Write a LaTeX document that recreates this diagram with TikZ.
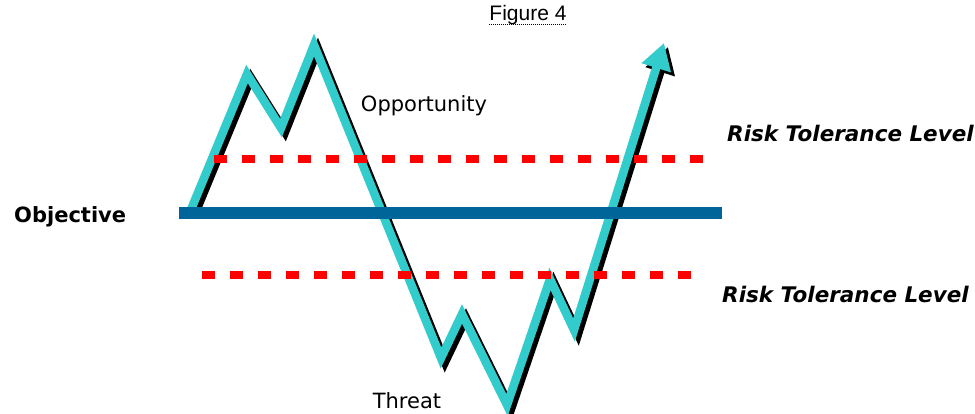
\documentclass[tikz,border=0pt]{standalone}
\usepackage{fontspec}
\setmainfont{DejaVu Sans}
\newfontfamily\arialfont{Liberation Sans}
\usetikzlibrary{arrows.meta}
\definecolor{trendcyan}{HTML}{33CCCC}
\definecolor{objblue}{HTML}{006699}
\definecolor{tolred}{HTML}{FF0000}
\begin{document}
\begin{tikzpicture}[x=1pt,y=-1pt,
  trend/.style={line width=8.5pt, line join=miter, -{Triangle[length=26pt,width=29pt]}},
  tolline/.style={tolred, line width=8pt, dash pattern=on 13pt off 15pt},
  lbl/.style={anchor=base, inner sep=0pt, font=\fontsize{21}{25}\selectfont},
  risk/.style={anchor=base west, inner sep=0pt, font=\fontsize{21.5}{25}\selectfont\bfseries\itshape}]
\useasboundingbox (0,0) rectangle (975,414);
% trend path coordinates
\coordinate (p0) at (190,212);
\coordinate (p1) at (247,74);
\coordinate (p2) at (281,128);
\coordinate (p3) at (314,45);
\coordinate (p4) at (441,358);
\coordinate (p5) at (462,314);
\coordinate (p6) at (507,405);
\coordinate (p7) at (550,279);
\coordinate (p8) at (574,330);
\coordinate (p9) at (664,43);
% shadow
\draw[trend, black] ([shift={(4,4)}]p0) -- ([shift={(4,4)}]p1) -- ([shift={(4,4)}]p2) -- ([shift={(4,4)}]p3) -- ([shift={(4,4)}]p4) -- ([shift={(4,4)}]p5) -- ([shift={(4,4)}]p6) -- ([shift={(4,4)}]p7) -- ([shift={(4,4)}]p8) -- ([shift={(4,4)}]p9);
% trend
\draw[trend, trendcyan] (p0) -- (p1) -- (p2) -- (p3) -- (p4) -- (p5) -- (p6) -- (p7) -- (p8) -- (p9);
% objective line
\coordinate (o1) at (179,213);
\coordinate (o2) at (722,213);
\draw[objblue, line width=12pt] (o1) -- (o2);
% tolerance lines
\coordinate (u1) at (214,159);
\coordinate (u2) at (706,159);
\coordinate (l1) at (202,275);
\coordinate (l2) at (694,275);
\draw[tolline] (u1) -- (u2);
\draw[tolline] (l1) -- (l2);
% texts
\node[anchor=base, inner sep=0pt, font=\arialfont\fontsize{21}{24}\selectfont] (fig) at (528,21) {Figure 4};
\draw[black, line width=0.8pt, dash pattern=on 1pt off 1pt] ([yshift=-3pt]fig.base west) -- ([yshift=-3pt]fig.base east);
\node[lbl] (opp) at (424,112) {Opportunity};
\node[lbl] (thr) at (407,408) {Threat};
\node[anchor=base west, inner sep=0pt, font=\fontsize{21}{25}\selectfont\bfseries] (obj) at (14,223) {Objective};
\node[risk] (rtu) at (727,142) {Risk Tolerance Level};
\node[risk] (rtl) at (722,302) {Risk Tolerance Level};
\end{tikzpicture}
\end{document}
